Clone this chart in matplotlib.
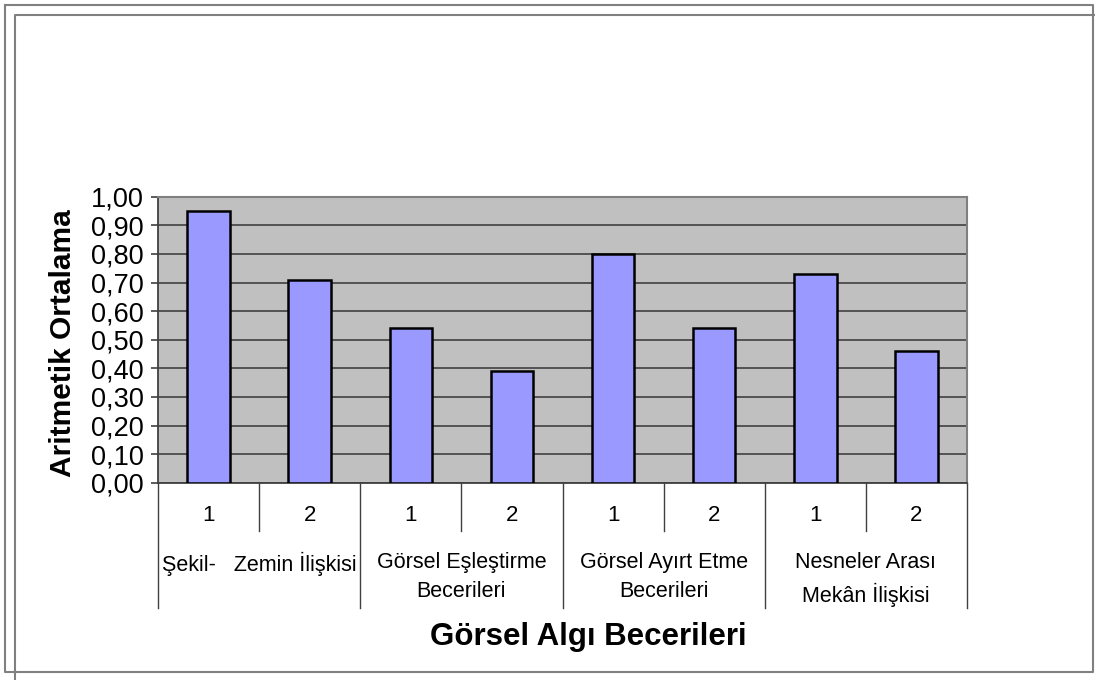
import matplotlib.pyplot as plt
from matplotlib.lines import Line2D

# Veriler
gruplar = ['Şekil-   Zemin İlişkisi', 'Görsel Eşleştirme\nBecerileri',
           'Görsel Ayırt Etme\nBecerileri', 'Nesneler Arası\nMekân İlişkisi']
alt_etiketler = ['1', '2', '1', '2', '1', '2', '1', '2']
ortalamalar = [0.95, 0.71, 0.54, 0.39, 0.80, 0.54, 0.73, 0.46]
y_ticks = [0.0, 0.1, 0.2, 0.3, 0.4, 0.5, 0.6, 0.7, 0.8, 0.9, 1.0]

plt.rcParams['font.family'] = ['Liberation Sans', 'DejaVu Sans']

W, H = 1095, 680
fig = plt.figure(figsize=(W / 100, H / 100), dpi=100)

def px(x, y):
    return x / W, 1 - y / H

# Çerçeveler
gri = '#808080'
fig.add_artist(Line2D([5 / W, 1093 / W, 1093 / W, 5 / W, 5 / W],
                      [1 - 5 / H, 1 - 5 / H, 1 - 672 / H, 1 - 672 / H, 1 - 5 / H],
                      color=gri, lw=1.5, transform=fig.transFigure))
fig.add_artist(Line2D([1095 / W, 15 / W, 15 / W], [1 - 14.5 / H, 1 - 14.5 / H, 0],
                      color=gri, lw=1.5, transform=fig.transFigure))

ax = fig.add_axes([158 / W, 1 - 482.7 / H, (967 - 158) / W, (482.7 - 196.7) / H])
ax.set_facecolor('#C0C0C0')

x = range(len(ortalamalar))
ax.bar(x, ortalamalar, width=0.42, color='#9999FF', edgecolor='black', linewidth=1.8, zorder=3)

ax.set_xlim(-0.5, len(ortalamalar) - 0.5)
ax.set_ylim(0, 1.0)
ax.set_yticks(y_ticks)
ax.set_yticklabels([f"{v:.2f}".replace('.', ',') for v in y_ticks], fontsize=19.5)
ax.tick_params(axis='y', direction='out', length=5, width=1.2, color='#404040', pad=5)
ax.set_xticks([])
ax.yaxis.grid(True, color='#4a4a4a', linewidth=1.3, zorder=1)
ax.set_axisbelow(True)

for side in ['top', 'right']:
    ax.spines[side].set_color(gri)
    ax.spines[side].set_linewidth(1.5)
ax.spines['left'].set_color('#404040')
ax.spines['left'].set_linewidth(1.3)
ax.spines['bottom'].set_color('#404040')
ax.spines['bottom'].set_linewidth(1.3)

# Kategori ayırıcıları ve etiketler
tr = ax.get_xaxis_transform()
for i in range(len(ortalamalar) + 1):
    alt = -0.438 if i % 2 == 0 else -0.169
    ax.plot([i - 0.5, i - 0.5], [0, alt], color='#404040', lw=1.0, transform=tr, clip_on=False)

for i, lab in enumerate(alt_etiketler):
    ax.text(i, -0.113, lab, transform=tr, ha='center', va='center', fontsize=16)

for g, lab in enumerate(gruplar):
    ax.text(2 * g + 0.5, -0.243, lab, transform=tr, ha='center', va='top',
            fontsize=15.5, linespacing=1.5)

fig.text(*px(588, 637), 'Görsel Algı Becerileri', ha='center', va='center',
         fontsize=22.5, fontweight='bold')
fig.text(*px(63, 343), 'Aritmetik Ortalama', ha='center', va='center',
         rotation=90, fontsize=21.5, fontweight='bold')

fig.savefig('out.png', dpi=100)
